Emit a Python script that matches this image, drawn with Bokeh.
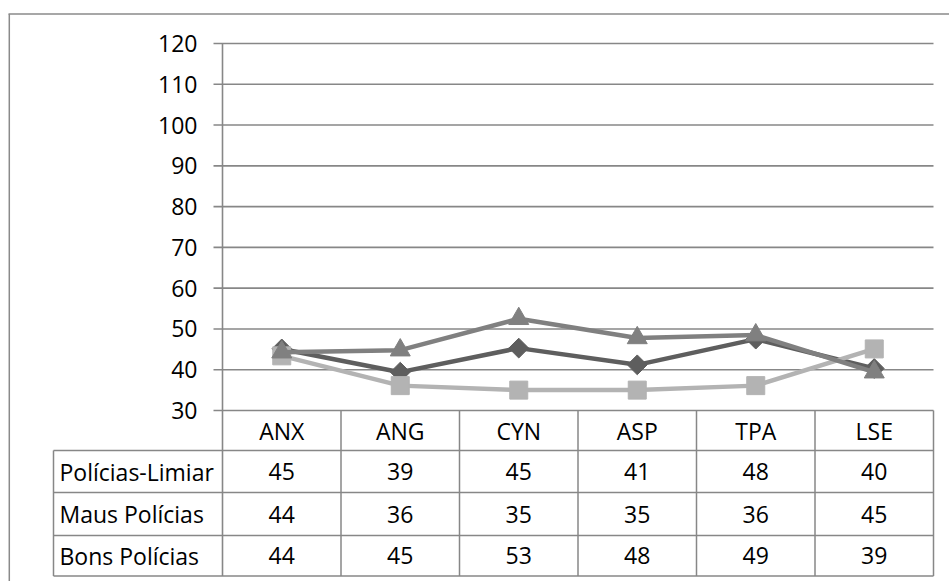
from bokeh.plotting import figure
from bokeh.models import Range1d
from bokeh.core.properties import value
from bokeh.embed import file_html
from bokeh.resources import INLINE

# ---- data ----
categories = ["ANX", "ANG", "CYN", "ASP", "TPA", "LSE"]
series_names = ["Polícias-Limiar", "Maus Polícias", "Bons Polícias"]
limiar = [45.1, 39.4, 45.3, 41.2, 47.5, 40.3]
maus = [43.4, 36.1, 35.0, 35.0, 36.1, 45.1]
bons = [44.3, 44.8, 52.5, 47.8, 48.5, 39.4]
table_limiar = [45, 39, 45, 41, 48, 40]
table_maus = [44, 36, 35, 35, 36, 45]
table_bons = [44, 45, 53, 48, 49, 39]
y_ticks = [30, 40, 50, 60, 70, 80, 90, 100, 110, 120]

# ---- layout (screen pixels of the picture -> data coordinates) ----
W, H = 949, 581
PX0, PX6 = 222.0, 933.0          # plot area left/right
PY30, PY120 = 410.0, 43.0        # y=30 and y=120 screen positions
sx = (PX6 - PX0) / 6.0
sy = (PY30 - PY120) / 90.0

def X(px):
    return (px - PX0) / sx

def Y(py):
    return 30.0 + (PY30 - py) / sy

FONT = value("Open Sans")
FS = "23px"
GRID = "#878787"

p = figure(width=W, height=H, output_backend="svg", toolbar_location=None,
           x_axis_type=None, y_axis_type=None,
           x_range=Range1d(X(0), X(W)), y_range=Range1d(Y(H), Y(0)),
           min_border=0, outline_line_color=None)
p.min_border_left = p.min_border_right = p.min_border_top = p.min_border_bottom = 0

# outer chart border (left and top visible)
p.segment(x0=[X(8.8), X(8)], y0=[Y(H), Y(13.5)], x1=[X(8.8), X(W)], y1=[Y(13.5), Y(13.5)],
          line_color="#8a8a8a", line_width=1.5)

# gridlines with outward tick
p.segment(x0=[X(213)] * len(y_ticks), y0=y_ticks, x1=[6] * len(y_ticks), y1=y_ticks,
          line_color=GRID, line_width=1.6)
# axis line (continues through table)
p.segment(x0=[0], y0=[120], x1=[0], y1=[Y(575.5)], line_color=GRID, line_width=1.6)

# tick labels
p.text(x=[X(197)] * len(y_ticks), y=y_ticks, text=[str(t) for t in y_ticks],
       text_align="right", text_baseline="middle", text_font=FONT,
       text_font_size=FS, text_color="#000000")

# ---- data table ----
n = len(categories)
row_tops = [Y(450), Y(492), Y(535)]
row_bottom = Y(575.5)
hlines = row_tops + [row_bottom]
p.segment(x0=[X(53)] * len(hlines), y0=hlines, x1=[6] * len(hlines), y1=hlines,
          line_color=GRID, line_width=1.5)
p.segment(x0=list(range(1, n + 1)), y0=[30] * n, x1=list(range(1, n + 1)), y1=[row_bottom] * n,
          line_color=GRID, line_width=1.5)
p.segment(x0=[X(53)], y0=[Y(450)], x1=[X(53)], y1=[row_bottom], line_color=GRID, line_width=1.5)

centers = [i + 0.5 for i in range(n)]
p.text(x=centers, y=[(30 + Y(450)) / 2] * n, text=categories, text_align="center",
       text_baseline="middle", text_font=FONT, text_font_size=FS, text_color="#000000")

row_centers = [(Y(450) + Y(492)) / 2, (Y(492) + Y(535)) / 2, (Y(535) + row_bottom) / 2]
p.text(x=[X(59)] * 3, y=row_centers, text=series_names, text_align="left",
       text_baseline="middle", text_font=FONT, text_font_size=FS, text_color="#000000")
for rc, vals in zip(row_centers, [table_limiar, table_maus, table_bons]):
    p.text(x=centers, y=[rc] * n, text=[str(v) for v in vals], text_align="center",
           text_baseline="middle", text_font=FONT, text_font_size=FS, text_color="#000000")

# ---- series ----
C_LIM, C_MAUS, C_BONS = "#5e5e5e", "#b3b3b3", "#808080"
p.line(centers, limiar, line_color=C_LIM, line_width=4.5, line_join="round")
p.scatter(centers, limiar, marker="square", angle=0.785398, size=14,
          fill_color=C_LIM, line_color=C_LIM)
p.line(centers, maus, line_color=C_MAUS, line_width=4.5, line_join="round")
p.scatter(centers, maus, marker="square", size=18, fill_color=C_MAUS, line_color=C_MAUS)
p.line(centers, bons, line_color=C_BONS, line_width=4.5, line_join="round")
p.scatter(centers, bons, marker="triangle", size=20, fill_color=C_BONS, line_color=C_BONS)

open("out.html", "w").write(file_html(p, INLINE))
